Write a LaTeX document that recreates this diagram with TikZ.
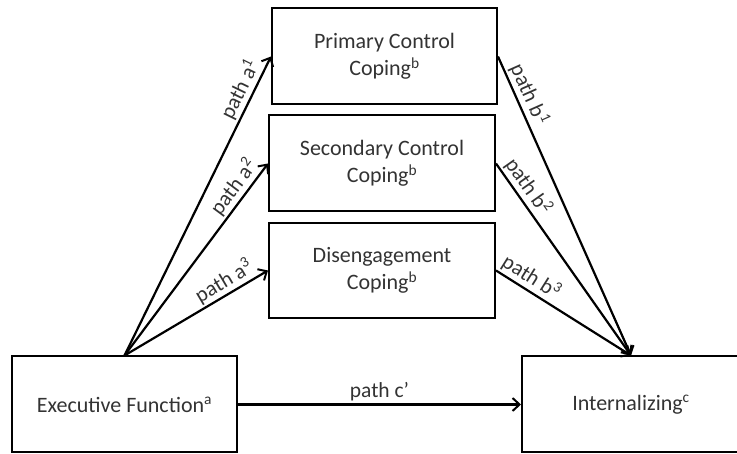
\documentclass[tikz,border=0pt]{standalone}
\usepackage{fontspec}
\setmainfont{Carlito}
\usepackage{tikz}
\usetikzlibrary{arrows.meta}

\begin{document}
\begin{tikzpicture}[x=1pt, y=-1pt, line width=2pt,
  box/.style={draw, minimum height=96pt, align=center, inner sep=0pt,
    text=black!80, font=\fontsize{22}{27}\selectfont},
  link/.style={-{Straight Barb[length=7pt,width=13pt,line width=2pt]}, line width=2.2pt},
  lbl/.style={text=black!80, font=\fontsize{21.5}{24}\selectfont, inner sep=2pt}]
  \useasboundingbox (0,0) rectangle (737,454);
  % mediators
  \node[box, minimum width=225pt] (prim) at (384.5,56.5)  {Primary Control\\Coping\textsuperscript{b}};
  \node[box, minimum width=226pt] (sec)  at (382,163.5)   {Secondary Control\\Coping\textsuperscript{b}};
  \node[box, minimum width=226pt, minimum height=95pt] (dis) at (382,270.5) {Disengagement\\Coping\textsuperscript{b}};
  % predictor and outcome
  \node[box, minimum width=225pt] (exec) at (124.5,404.5) {Executive Function\textsuperscript{a}};
  \node[box, minimum width=218pt] (intl) at (631,404.5)   {Internalizing\textsuperscript{c}};
  % a paths
  \draw[link] (exec.north) -- (prim.west) node[lbl,pos=0.87,above,sloped]{path a\textsuperscript{1}};
  \draw[link] (exec.north) -- (sec.west)  node[lbl,pos=0.835,above,sloped]{path a\textsuperscript{2}};
  \draw[link] (exec.north) -- (dis.west)  node[lbl,pos=0.74,above,sloped]{path a\textsuperscript{3}};
  % b paths
  \draw[link] (prim.east) -- (intl.north) node[lbl,pos=0.145,above,sloped]{path b\textsuperscript{1}};
  \draw[link] (sec.east)  -- (intl.north) node[lbl,pos=0.16,above,sloped]{path b\textsuperscript{2}};
  \draw[link] (dis.east)  -- (intl.north) node[lbl,pos=0.21,above,sloped]{path b\textsuperscript{3}};
  % direct path
  \draw[link] (exec.east) -- (intl.west) node[lbl,midway,above]{path c’};
\end{tikzpicture}
\end{document}
